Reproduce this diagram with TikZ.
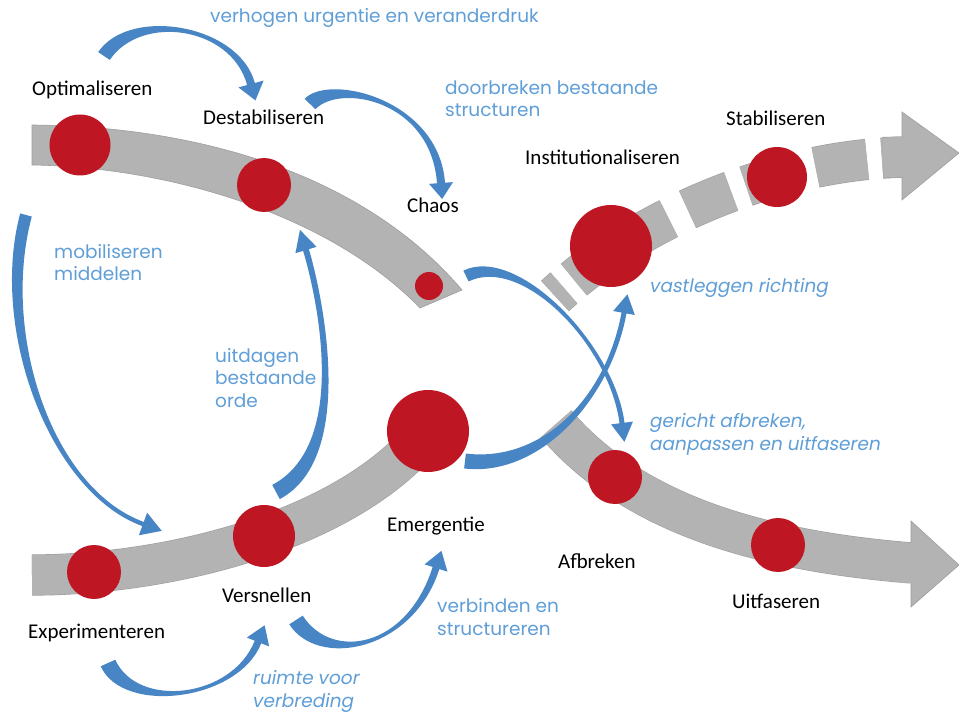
\documentclass[tikz,border=0pt]{standalone}
\usepackage{fontspec}
\setmainfont{Carlito}
\newfontfamily\bluefont{Poppins}
\newfontfamily\blueitfont[FakeSlant=0.18]{Poppins}
\usetikzlibrary{calc}
\definecolor{bandgray}{RGB}{179,179,179}
\definecolor{bandedge}{RGB}{158,158,158}
\definecolor{dotred}{RGB}{190,22,34}
\definecolor{arrblue}{RGB}{72,133,197}
\definecolor{txtblue}{RGB}{95,158,215}
% tapered curved block arrow: P0 P1 P2 P3, half width at tail, half width at head base, head half width, head length
\newcommand{\tarrow}[8]{%
  \fill[blockarrow] ($#1!#5!90:#2$) .. controls ($#2!#5!-90:#1$) and ($#3!#6!90:#4$) .. ($#4!#6!-90:#3$)
    -- ($#4!#7!-90:#3$) -- ($#4!#8!180:#3$) -- ($#4!#7!90:#3$) -- ($#4!#6!90:#3$)
    .. controls ($#3!#6!-90:#4$) and ($#2!#5!90:#1$) .. ($#1!#5!-90:#2$) -- cycle;}
\tikzset{
  band/.style={draw=bandedge, line width=0.6pt, fill=bandgray},
  thickband/.style={bandgray, line width=40pt, preaction={draw=bandedge, line width=41.2pt}},
  dot/.style={circle, fill=dotred, inner sep=0pt, outer sep=0pt},
  stage/.style={font=\fontsize{21}{25}\selectfont, anchor=base west, inner sep=0pt, text=black},
  action/.style={font=\bluefont\fontsize{18.5}{22.5}\selectfont, anchor=base west, inner sep=0pt, text=txtblue, align=left},
  actionit/.style={action, font=\blueitfont\fontsize{18.5}{22.5}\selectfont},
  blockarrow/.style={fill=arrblue}
}
\begin{document}
\begin{tikzpicture}[x=1pt,y=-1pt]
\useasboundingbox (0,0) rectangle (959,714);
\fill[white] (0,0) rectangle (959,714);
% grey bands
\path[band] (32,125) .. controls (190,126) and (360,170) .. (462,290) -- (420,308)
  .. controls (330,215) and (170,167) .. (32,165) -- cycle;
\draw[thickband] (32,575) .. controls (170,575) and (350,530) .. (428,431);
\draw[thickband] (556,424) .. controls (630,510) and (750,550) .. (912,563);
\path[band] (911,521) -- (959,565) -- (911,607) -- cycle;
\draw[bandgray, line width=40pt] (900,562.5) -- (914,563);
\draw[bandgray, line width=40pt,
  dash pattern={on 12pt off 13pt on 48pt off 18pt on 47pt off 21pt on 47pt off 16pt on 52pt off 20pt on 52pt off 15pt on 60pt},
  preaction={draw=bandedge, line width=41.2pt,
  dash pattern={on 12pt off 13pt on 48pt off 18pt on 47pt off 21pt on 47pt off 16pt on 52pt off 20pt on 52pt off 15pt on 60pt}}]
  (555,296) .. controls (635,222) and (770,160) .. (906,157);
\draw[thickband] (883,157.6) -- (906,157);
\path[band] (902,112) -- (959,153) -- (902,200) -- cycle;
\draw[bandgray, line width=40pt] (890,157.4) -- (906,157);
% blue curved arrows
\tarrow{(104,56)}{(135,10)}{(235,25)}{(251,84)}{7pt}{4pt}{13pt}{17pt}
\tarrow{(310,104)}{(335,78)}{(435,100)}{(441,183)}{7.5pt}{4pt}{12pt}{16pt}
\tarrow{(26,215)}{(-5,330)}{(50,490)}{(143,524)}{6pt}{2.2pt}{12pt}{20pt}
\tarrow{(276,492)}{(355,450)}{(318,290)}{(306,250)}{8pt}{3pt}{11pt}{21pt}
\tarrow{(466,276)}{(520,250)}{(612,345)}{(622,423)}{6pt}{2.5pt}{11pt}{19pt}
\tarrow{(465,461)}{(540,470)}{(608,400)}{(624,313)}{7.5pt}{2.5pt}{11pt}{19pt}
\tarrow{(108,663)}{(130,712)}{(235,700)}{(258,642)}{8pt}{3.5pt}{12pt}{18pt}
\tarrow{(296,620)}{(325,665)}{(410,650)}{(436,568)}{8pt}{3.5pt}{12pt}{18pt}
% red dots
\node[dot, minimum size=61pt] (dopt) at (80,145) {};
\node[dot, minimum size=54pt] (ddes) at (264,185) {};
\node[dot, minimum size=28pt] (dcha) at (429,286) {};
\node[dot, minimum size=82pt] (dins) at (611,246) {};
\node[dot, minimum size=60pt] (dsta) at (777,177) {};
\node[dot, minimum size=82pt] (deme) at (428,431) {};
\node[dot, minimum size=62pt] (dver) at (264,536) {};
\node[dot, minimum size=54pt] (dexp) at (94,572) {};
\node[dot, minimum size=54pt] (dafb) at (615,477) {};
\node[dot, minimum size=54pt] (duit) at (778,545) {};
% stage labels
\node[stage] (lopt) at (32,96) {Optimaliseren};
\node[stage] (ldes) at (203,125) {Destabiliseren};
\node[stage] (lcha) at (407,213) {Chaos};
\node[stage] (lins) at (525,165) {Institutionaliseren};
\node[stage] (lsta) at (726,126) {Stabiliseren};
\node[stage] (leme) at (387,531) {Emergentie};
\node[stage] (lver) at (222,602) {Versnellen};
\node[stage] (lexp) at (28,638) {Experimenteren};
\node[stage] (lafb) at (558,568) {Afbreken};
\node[stage] (luit) at (732,608) {Uitfaseren};
% action labels (base anchor = last line)
\node[action] (t1) at (210,23) {verhogen urgentie en veranderdruk};
\node[action] (t2) at (445,117) {doorbreken bestaande\\structuren};
\node[action] (t3) at (54,281) {mobiliseren\\middelen};
\node[action] (t4) at (215,407) {uitdagen\\bestaande\\orde};
\node[actionit] (t5) at (649,292) {vastleggen richting};
\node[actionit] (t6) at (649,450) {gericht afbreken,\\aanpassen en uitfaseren};
\node[action] (t7) at (437,635) {verbinden en\\structureren};
\node[actionit] (t8) at (252,707) {ruimte voor\\verbreding};
\end{tikzpicture}
\end{document}
